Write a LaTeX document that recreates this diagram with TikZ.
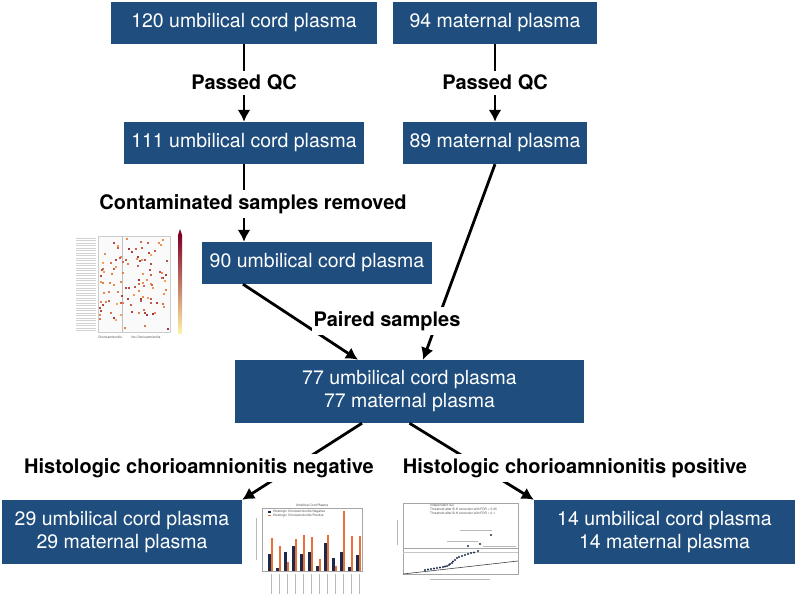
\documentclass[tikz,border=0pt]{standalone}
\usepackage{fontspec}
\setmainfont{TeX Gyre Heros}
\usepackage{tikz}
\usepackage{xcolor}
\usetikzlibrary{calc,arrows.meta}
\definecolor{boxblue}{HTML}{1F4E7E}
\definecolor{hmlow}{HTML}{FFF2A8}
\definecolor{hmmid}{HTML}{FD8D3C}
\definecolor{hmhigh}{HTML}{800026}
\definecolor{barnavy}{HTML}{1B2A4A}
\definecolor{barorange}{HTML}{E8703A}
\tikzset{>={Latex[length=12pt,width=13pt]}}
\tikzset{
  sample/.style={fill=boxblue, text=white, inner sep=0pt, align=center,
    font=\fontsize{19.5}{23}\selectfont},
  flow/.style={line width=2.8pt, ->},
  filterlabel/.style={fill=white, inner xsep=2pt, inner ysep=4pt,
    font=\fontsize{20}{24}\selectfont\bfseries},
  tiny/.style={font=\fontsize{3.2}{3.6}\selectfont, text=black!70, inner sep=0pt}
}

\begin{document}
\begin{tikzpicture}[x=1pt, y=-1pt]
    \useasboundingbox (0,0) rectangle (800,610);
    \node[sample, minimum width=266pt, minimum height=42pt] (cord120) at (244,23) {120 umbilical cord plasma};
    \node[sample, minimum width=204pt, minimum height=42pt] (mat94) at (495,23) {94 maternal plasma};
    \node[sample, minimum width=240pt, minimum height=42pt] (cord111) at (244,143) {111 umbilical cord plasma};
    \node[sample, minimum width=184pt, minimum height=42pt] (mat89) at (495,143) {89 maternal plasma};
    \node[sample, minimum width=230pt, minimum height=42pt] (cord90) at (317,263) {90 umbilical cord plasma};
    \node[sample, minimum width=349pt, minimum height=63pt] (paired) at (409.5,391.5) {77 umbilical cord plasma\\77 maternal plasma};
    \node[sample, minimum width=240pt, minimum height=64pt] (negative) at (122,532) {29 umbilical cord plasma\\29 maternal plasma};
    \node[sample, minimum width=261pt, minimum height=64pt] (positive) at (664.5,532) {14 umbilical cord plasma\\14 maternal plasma};

    \draw[flow] (cord120) -- (cord111);
    \draw[flow] (mat94) -- (mat89);
    \draw[flow] (cord111.south) -- (cord111.south |- cord90.north);
    \draw[flow] ([xshift=-74pt]cord90.south) -- ([xshift=-51.5pt]paired.north);
    \draw[flow] (mat89.south) -- ([xshift=13.5pt]paired.north);
    \draw[flow] ([xshift=-47.5pt]paired.south) -- (negative.north east);
    \draw[flow] (paired.south) -- (positive.north west);

    \node[filterlabel] (qccord) at (244,83) {Passed QC};
    \node[filterlabel] (qcmat) at (495,83) {Passed QC};
    \node[filterlabel] (contam) at (253,204) {Contaminated samples removed};
    \node[filterlabel] (pairlabel) at (387,321) {Paired samples};
    \node[filterlabel] (neglabel) at (199,468) {Histologic chorioamnionitis negative};
    \node[filterlabel] (poslabel) at (575,468) {Histologic chorioamnionitis positive};

    % contamination heatmap
    \foreach \y in {238,240.5,...,331} \draw[gray!35, line width=0.5pt] (76,\y) -- (96,\y);
    \draw[gray!40, fill=gray!4, line width=0.3pt] (98,236) rectangle (170,332);
    \draw[gray!50, line width=0.6pt] (122,236) -- (122,332);
    \pgfmathsetseed{11}
    \foreach \i in {1,...,110}{
      \pgfmathsetmacro\hx{99+69*rnd}
      \pgfmathsetmacro\hy{238+92*rnd}
      \pgfmathtruncatemacro\hc{100*rnd}
      \fill[hmhigh!\hc!hmmid!80!hmlow] (\hx,\hy) rectangle ++(2,2);
    }
    \shade[top color=hmhigh, middle color=hmmid, bottom color=hmlow] (178,235) rectangle (182,333);
    \fill[hmhigh] (178,235) -- (182,235) -- (180,229) -- cycle;
    \node[tiny] (hmleft) at (110,337) {Chorioamnionitis};
    \node[tiny] (hmright) at (146,337) {No Chorioamnionitis};

    % abundance bar chart
    \node[tiny] (bartitle) at (312,505) {Umbilical Cord Plasma};
    \draw[gray!70, line width=0.4pt] (262,508) rectangle (362,571);
    \fill[barnavy] (268,511) rectangle ++(3,1.5);
    \fill[barorange] (268,514.5) rectangle ++(3,1.5);
    \node[tiny, anchor=west] (legneg) at (273,512) {Histologic Chorioamnionitis Negative};
    \node[tiny, anchor=west] (legpos) at (273,515.5) {Histologic Chorioamnionitis Positive};
    \foreach \n/\o [count=\k] in {17/33,3/25,19/9,25/32,17/36,19/34,5/12,28/36,13/5,19/60,4/35,16/35}{
      \pgfmathsetmacro\bx{260.3+8*\k}
      \fill[barnavy] (\bx,571) rectangle ++(2.4,-\n);
      \fill[barorange] (\bx+2.6,571) rectangle ++(2.4,-\o);
      \draw[gray!55, line width=0.6pt] (\bx+2.5,574) -- ++(0,20);
    }
    \draw[gray!55, line width=0.6pt] (256,518) -- (256,560);

    % q-q plot
    \draw[gray!70, line width=0.4pt] (403,503) rectangle (518,574);
    \draw[gray!70, line width=0.4pt] (403,548) -- (518,548);
    \draw[gray!45, line width=0.4pt] (403,552) -- (518,552);
    \draw[black!75, line width=0.6pt] (403,574) -- (518,561);
    \node[tiny, anchor=west] (qqnull) at (430,506) {Independent null};
    \node[tiny, anchor=west] (qqfdr1) at (430,509.5) {Threshold after B-H correction with FDR < 0.05};
    \node[tiny, anchor=west] (qqfdr2) at (430,513) {Threshold after B-H correction with FDR < 0.1};
    \foreach \px/\py in {425/570,428/569.5,431/569,434/568.5,437/568,440/567.5,443/567,445/566.5,447/566,
        449/565,450/564,452/563,453/561.5,455/560,457/558,459/557,462/556,465/555,468/554,471/553,
        474/552.5,478/551,480/544,468/546,491/535}
      \fill[barnavy] (\px,\py) circle (1.1pt);
    \draw[gray!55, line width=0.6pt] (460,530) -- (492,530);
    \draw[gray!55, line width=0.6pt] (447,541) -- (478,541);
    \draw[gray!55, line width=0.6pt] (483,546) -- (516,546);
    \draw[gray!55, line width=0.6pt] (430,579) -- (490,579);
    \draw[gray!55, line width=0.6pt] (397,520) -- (397,545);
\end{tikzpicture}
\end{document}
